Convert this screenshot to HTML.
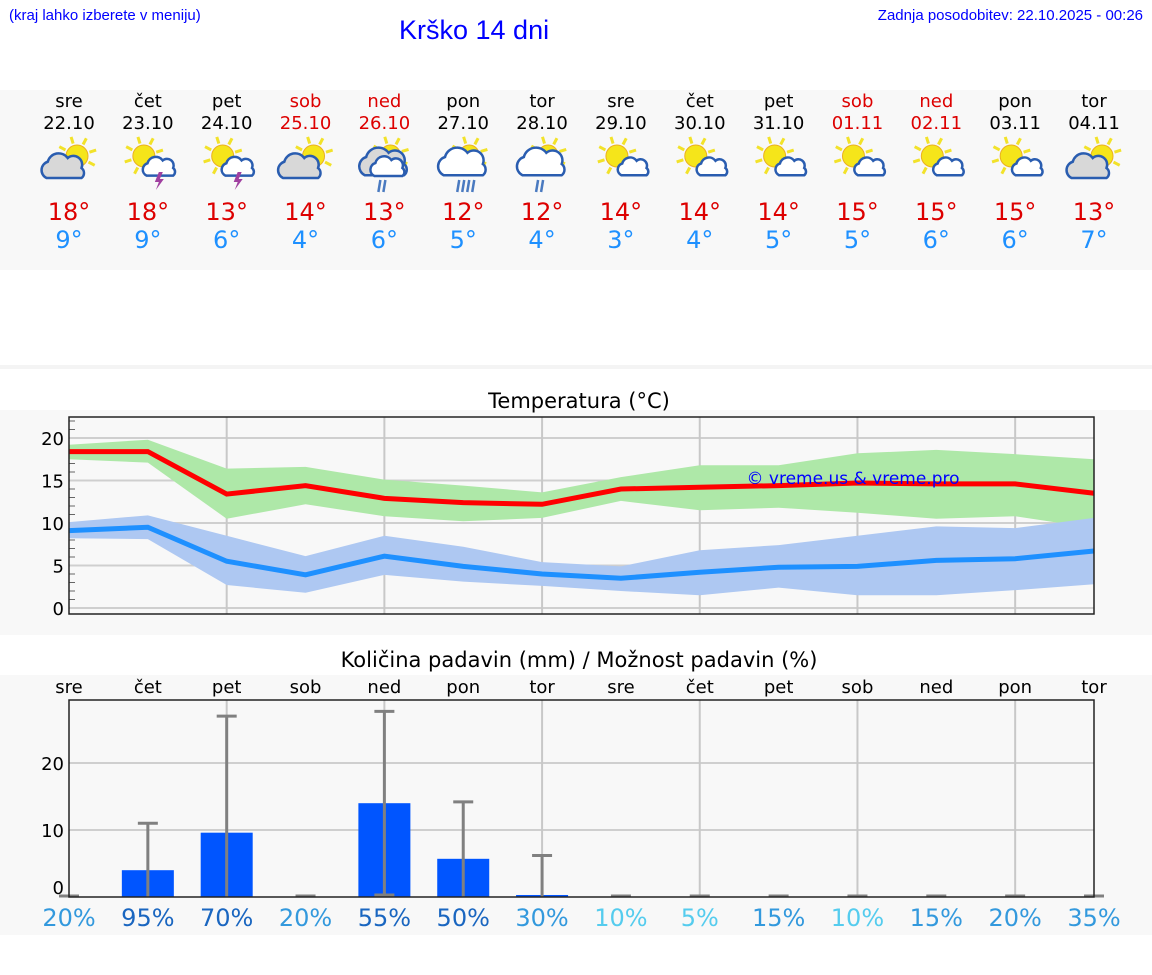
<!DOCTYPE html>
<html><head><meta charset="utf-8">
<style>
body{margin:0;width:1152px;height:975px;background:#fff;font-family:"DejaVu Sans","Liberation Sans",sans-serif;overflow:hidden;position:relative}
.abs{position:absolute}
</style></head>
<body>
<div class="abs" style="left:9px;top:7px;font-size:15px;color:#00f;font-family:'Liberation Sans',sans-serif">(kraj lahko izberete v meniju)</div>
<div class="abs" style="left:399px;top:15px;font-size:27px;color:#00f;font-family:'Liberation Sans',sans-serif">Krško 14 dni</div>
<div class="abs" style="right:9px;top:7px;font-size:15px;color:#00f;font-family:'Liberation Sans',sans-serif">Zadnja posodobitev: 22.10.2025 - 00:26</div>
<svg id="s" class="abs" style="left:0;top:0" width="1152" height="975"></svg>
<script>
const days=["sre","čet","pet","sob","ned","pon","tor","sre","čet","pet","sob","ned","pon","tor"];
const dates=["22.10","23.10","24.10","25.10","26.10","27.10","28.10","29.10","30.10","31.10","01.11","02.11","03.11","04.11"];
const weekend=[0,0,0,1,1,0,0,0,0,0,1,1,0,0];
const hiLabels=[18,18,13,14,13,12,12,14,14,14,15,15,15,13];
const loLabels=[9,9,6,4,6,5,4,3,4,5,5,6,6,7];
const icons=["pc","ts","ts","pc","rain","rain2","rain","pcs","pcs","pcs","pcs","pcs","pcs","pc"];
const tMax=[18.4,18.4,13.4,14.4,12.9,12.4,12.2,14.0,14.2,14.4,14.7,14.6,14.6,13.5];
const tMaxHi=[19.2,19.8,16.4,16.6,15.1,14.4,13.6,15.4,16.8,16.8,18.2,18.6,18.1,17.5];
const tMaxLo=[17.5,17.1,10.5,12.2,10.8,10.2,10.6,12.6,11.5,11.8,11.2,10.5,10.8,9.4];
const tMin=[9.1,9.5,5.5,3.9,6.1,4.9,4.0,3.5,4.2,4.8,4.9,5.6,5.8,6.7];
const tMinHi=[10.1,10.9,8.5,6.1,8.5,7.2,5.4,4.9,6.8,7.4,8.5,9.6,9.4,10.6];
const tMinLo=[8.2,8.1,2.7,1.8,3.9,3.1,2.6,2.0,1.5,2.4,1.5,1.5,2.1,2.8];
const tTicks=[0,5,10,15,20];
const rain=[0,4.0,9.6,0,14.0,5.7,0.3,0,0,0,0,0,0,0];
const rainHi=[0,11.0,27.0,0,27.7,14.2,6.2,0,0,0,0,0,0,0];
const rainLo=[0,0,0,0,0.3,0,0,0,0,0,0,0,0,0];
const prob=[20,95,70,20,55,50,30,10,5,15,10,15,20,35];
const rTicks=[0,10,20];

const NS="http://www.w3.org/2000/svg",S=document.getElementById('s');
function el(t,a,p){const e=document.createElementNS(NS,t);for(const k in a)e.setAttribute(k,a[k]);(p||S).appendChild(e);return e;}
function txt(x,y,s,a){const e=el('text',Object.assign({x:x,y:y,'text-anchor':'middle'},a));e.textContent=s;return e;}
const X=i=>69+i*1025/13;
const yT=v=>608-v*8.5;
const yR=v=>897-v*6.7;

let r,t;
r=el('rect',{x:0,y:90,width:1152,height:180,fill:'#f8f8f8'});

el('rect',{x:0,y:365,width:1152,height:4,fill:'#f4f4f4'});
el('rect',{x:0,y:410,width:1152,height:225,fill:'#f8f8f8'});
el('rect',{x:0,y:675,width:1152,height:260,fill:'#f8f8f8'});

function sun(g,cx,cy,rr){
  for(let k=0;k<8;k++){const a=k*Math.PI/4-0.3;el('line',{x1:cx+Math.cos(a)*(rr+2),y1:cy+Math.sin(a)*(rr+2),x2:cx+Math.cos(a)*(rr+9),y2:cy+Math.sin(a)*(rr+9),stroke:'#f2e22a','stroke-width':3},g);}
  el('circle',{cx:cx,cy:cy,r:rr,fill:'#f5e51a',stroke:'#eab020','stroke-width':1},g);
}
function cloud(g,cx,cy,s,fill){
  const gg=el('g',{transform:`translate(${cx},${cy}) scale(${s})`},g);
  el('path',{d:'M-14,8 a7 7 0 0 1 1,-13 a9 9 0 0 1 16,-3 a7 7 0 0 1 11,8 a5 5 0 0 1 0,8 z',fill:fill||'#d8d8d8',stroke:'#2a5db0','stroke-width':2.5/s},gg);
}
for(let i=0;i<14;i++){
  const c=weekend[i]?'#d00':'#000',x=X(i);
  t=txt(x,107,days[i],{'font-size':18,fill:c});
  
  t=txt(x,129,dates[i],{'font-size':18,fill:c});
  
  const g=el('g',{});
  
  const k=icons[i];
  if(k==='pc'){sun(g,x+8,156,11);cloud(g,x-5,168,1.25);}
  else if(k==='ts'){sun(g,x-4,156,11);cloud(g,x+12,168,0.95,'#fff');el('path',{d:`M${x+11},${172} l-4,10 h4 l-3,8 l8,-11 h-4 l3,-7z`,fill:'#a040a0'},g);}
  else if(k==='pcs'){sun(g,x-4,156,11);cloud(g,x+13,168,0.9,'#fff');}
  else {sun(g,x+6,155,10);cloud(g,x,164,1.4,i===4?'#d8d8d8':'#fff');if(i===4)cloud(g,x+4,168,1.0,'#fff');
    for(let j=0;j<(k==='rain2'?4:2);j++)el('line',{x1:x-4+j*5,y1:180,x2:x-6+j*5,y2:192,stroke:'#4a7ac0','stroke-width':2.5},g);}
  t=txt(x,220,hiLabels[i]+'°',{'font-size':24,fill:'#d00'});
  
  t=txt(x,248,loLabels[i]+'°',{'font-size':24,fill:'#1e90ff'});
  
}

t=txt(579,408,'Temperatura (°C)',{'font-size':21,fill:'#000'});

for(let v=0;v<=22;v++){if(v%5)el('line',{x1:69,x2:75,y1:yT(v),y2:yT(v),stroke:'#666','stroke-width':1});}
tTicks.forEach(v=>{el('line',{x1:69,x2:1094,y1:yT(v),y2:yT(v),stroke:'#cfcfcf','stroke-width':2});
  const e=txt(64,yT(v)+7,String(v),{'font-size':18,'text-anchor':'end',fill:'#000'});});
for(let i=2;i<14;i+=2)el('line',{x1:X(i),x2:X(i),y1:417,y2:614,stroke:'#c8c8c8','stroke-width':2});
function band(hi,lo,fill,name){let d='M';hi.forEach((v,i)=>d+=X(i)+','+yT(v)+' L');for(let i=13;i>=0;i--)d+=X(i)+','+yT(lo[i])+(i?' L':'');const p=el('path',{d:d+'Z',fill:fill});}
band(tMaxHi,tMaxLo,'#aee8a8','max-temp-range');
band(tMinHi,tMinLo,'#aec8f2','min-temp-range');
function line(a,c,name){const p=el('polyline',{points:a.map((v,i)=>X(i)+','+yT(v)).join(' '),fill:'none',stroke:c,'stroke-width':5});}
line(tMax,'#f00','max-temp-line');line(tMin,'#1e90ff','min-temp-line');
el('rect',{x:69,y:417,width:1025,height:197,fill:'none',stroke:'#222','stroke-width':1.5});
t=txt(853,484,'© vreme.us & vreme.pro',{'font-size':17,fill:'#00f'});


t=txt(579,667,'Količina padavin (mm) / Možnost padavin (%)',{'font-size':21,fill:'#000'});

for(let i=0;i<14;i++){t=txt(X(i),693,days[i],{'font-size':18,fill:'#000'});}
[10,20].forEach(v=>el('line',{x1:69,x2:1094,y1:yR(v),y2:yR(v),stroke:'#cfcfcf','stroke-width':2}));
for(let i=2;i<14;i+=2)el('line',{x1:X(i),x2:X(i),y1:700,y2:897,stroke:'#c8c8c8','stroke-width':2});
rTicks.forEach(v=>{const e=txt(64,yR(v)+7-(v===0?10:0),String(v),{'font-size':18,'text-anchor':'end',fill:'#000'});});
for(let i=0;i<14;i++){
  const x=X(i);
  if(rain[i]>0){const b=el('rect',{x:x-26,y:yR(rain[i]),width:52,height:yR(0)-yR(rain[i]),fill:'#0055ff'});}
  const g=el('g',{stroke:'#808080','stroke-width':3});
  
  if(rainHi[i]>0)el('line',{x1:x,x2:x,y1:yR(rainHi[i]),y2:yR(rainLo[i])},g);
  el('line',{x1:x-10,x2:x+10,y1:yR(rainHi[i])-(rainHi[i]>0?0:1),y2:yR(rainHi[i])-(rainHi[i]>0?0:1)},g);
  if(rainLo[i]>0)el('line',{x1:x-10,x2:x+10,y1:yR(rainLo[i]),y2:yR(rainLo[i])},g);
  const p=prob[i],c=p>=50?'#1a66c0':p>=15?'#3399dd':'#55ccee';
  t=txt(x,926,p+'%',{'font-size':24,fill:c});
}
el('rect',{x:69,y:700,width:1025,height:197,fill:'none',stroke:'#222','stroke-width':1.5});
</script>
</body></html>
